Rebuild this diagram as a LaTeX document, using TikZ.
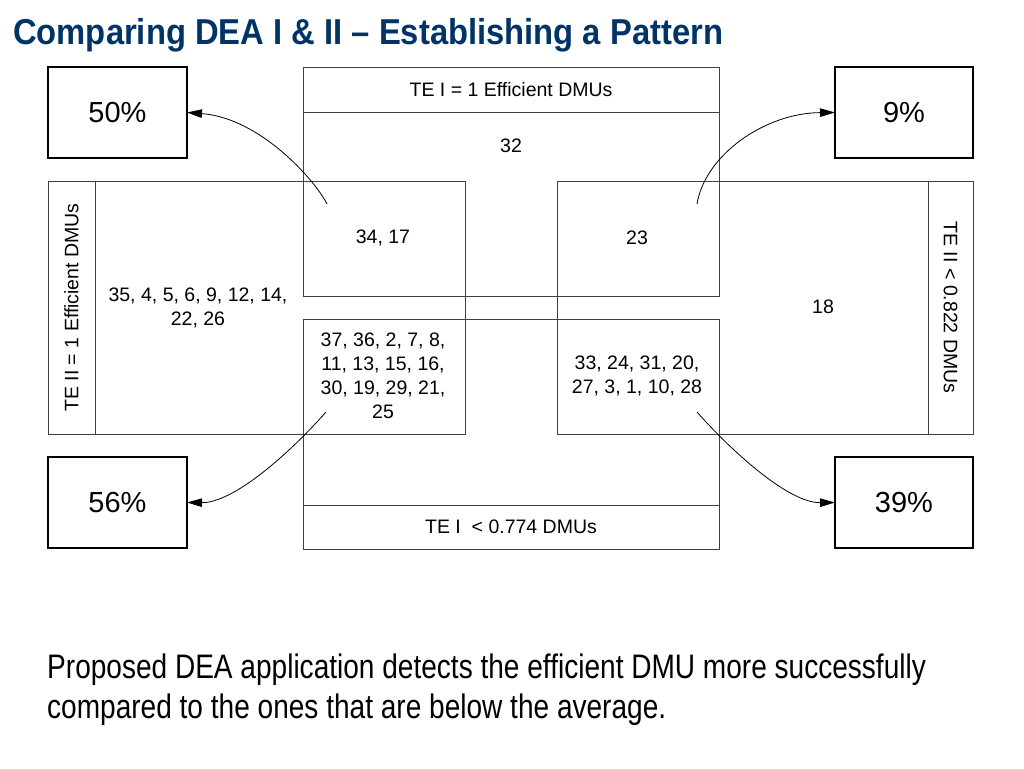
\documentclass[tikz,border=0pt]{standalone}
\usepackage{fontspec}
\setmainfont{Liberation Sans}
\newfontfamily\narrowfont[FakeStretch=0.825]{Liberation Sans}
\newfontfamily\titlefont[FakeStretch=0.91]{Liberation Sans}
\usepackage{xcolor}
\usepackage{tikz}
\usetikzlibrary{arrows.meta}
\definecolor{titleblue}{RGB}{0,51,102}

\begin{document}
\begin{tikzpicture}[x=1pt,y=-1pt]
        \tikzstyle{every node}=[inner sep=0pt,font=\fontsize{19.5}{24}\selectfont]
        \tikzstyle{region}=[draw=black!75,line width=0.9pt,anchor=north west,outer sep=0pt]
        \tikzstyle{share}=[draw,line width=1.8pt,anchor=north west,outer sep=0pt,minimum width=139pt,minimum height=91pt,font=\fontsize{29}{34}\selectfont]
        \tikzstyle{link}=[black,line width=0.8pt,-{Triangle[length=15pt,width=8.5pt]}]
        \useasboundingbox (0,0) rectangle (1024,768);
        \node[anchor=base west,text=titleblue,font=\titlefont\bfseries\fontsize{36}{40}\selectfont] (title) at (13,45) {Comparing DEA I \& II – Establishing a Pattern};
        \node[region,minimum width=416pt,minimum height=229pt] (tei) at (303,67) {};
        \node[region,minimum width=416pt,minimum height=45pt] (teihead) at (303,67) {TE I = 1 Efficient DMUs};
        \node[region,minimum width=416pt,minimum height=230pt] (teib) at (303,319) {};
        \node[region,minimum width=416pt,minimum height=44pt] (teibfoot) at (303,505) {TE I\ \ < 0.774 DMUs};
        \node[region,minimum width=417pt,minimum height=253pt] (teii) at (48,181) {};
        \node[region,minimum width=47pt,minimum height=253pt] (teiiband) at (48,181) {};
        \node[region,minimum width=416pt,minimum height=253pt] (teiib) at (557,181) {};
        \node[region,minimum width=45pt,minimum height=253pt] (teiibband) at (928,181) {};
        \node[rotate=90] (teiilabel) at (teiiband.center) {TE II = 1 Efficient DMUs};
        \node[rotate=-90] (teiiblabel) at (teiibband.center) {TE II < 0.822 DMUs};
        \node (onlytei) at (511,146) {32};
        \node (teiteii) at (383,238) {34, 17};
        \node (teiteiib) at (637,238) {23};
        \node[align=center] (onlyteii) at (198,308) {35, 4, 5, 6, 9, 12, 14,\\22, 26};
        \node[align=center] (teibteii) at (383,376) {37, 36, 2, 7, 8,\\11, 13, 15, 16,\\30, 19, 29, 21,\\25};
        \node[align=center] (teibteiib) at (637,376) {33, 24, 31, 20,\\27, 3, 1, 10, 28};
        \node (onlyteiib) at (823,307) {18};
        \node[share] (p50) at (48,67) {50\%};
        \node[share,minimum width=138pt] (p9) at (835,67) {9\%};
        \node[share] (p56) at (48,457) {56\%};
        \node[share,minimum width=138pt] (p39) at (835,457) {39\%};
        \coordinate (s50) at (327,204);
        \coordinate (s9) at (697,204);
        \coordinate (s56) at (326,412);
        \coordinate (s39) at (697,412);
        \draw[link] (s50) .. controls (315,180) and (260,118) .. (p50.east);
        \draw[link] (s9) .. controls (705,155) and (765,113) .. (p9.west);
        \draw[link] (s56) .. controls (288,455) and (233,503) .. (p56.east);
        \draw[link] (s39) .. controls (735,455) and (790,503) .. (p39.west);
        \node[anchor=north west,align=left,font=\narrowfont\fontsize{34}{40}\selectfont] (note) at (47,654) {Proposed DEA application detects the efficient DMU more successfully\\compared to the ones that are below the average.};
\end{tikzpicture}
\end{document}
